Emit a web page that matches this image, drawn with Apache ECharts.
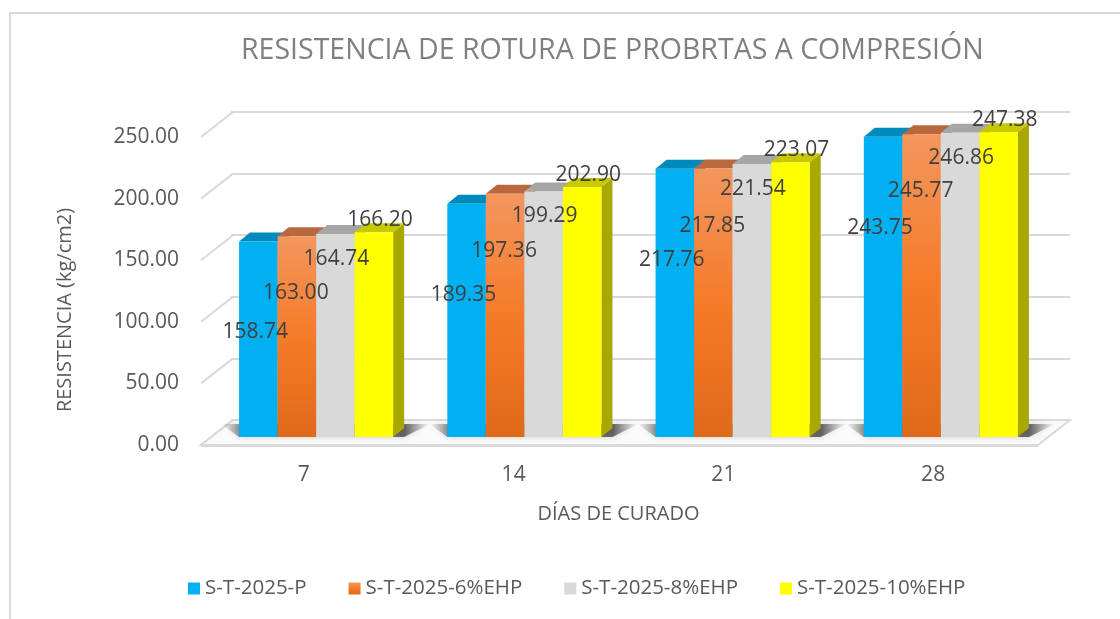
<!DOCTYPE html>
<html lang="es" style="height: 100%">

<head>
    <meta charset="UTF-8">
    <title>Resistencia de rotura</title>
    <script type="text/javascript" src="https://cdn.jsdelivr.net/npm/echarts@6/dist/echarts.min.js"></script>
</head>

<body style="height: 100%; margin: 0; background: #fff">
    <div id="container" style="width: 1120px; height: 619px"></div>
    <script type="text/javascript">
    var myChart = echarts.init(document.getElementById('container'));

    var days = ['7', '14', '21', '28'];
    var seriesNames = ['S-T-2025-P', 'S-T-2025-6%EHP', 'S-T-2025-8%EHP', 'S-T-2025-10%EHP'];
    var valP = [158.74, 189.35, 217.76, 243.75];
    var val6 = [163.00, 197.36, 217.85, 245.77];
    var val8 = [164.74, 199.29, 221.54, 246.86];
    var val10 = [166.20, 202.90, 223.07, 247.38];
    var yTicks = [0, 50, 100, 150, 200, 250];

    var allValues = [valP, val6, val8, val10];
    var FONT = "'Open Sans', sans-serif";

    // colours: front, top, side
    var faces = [
        { front: '#00B0F0', top: '#0089BC', side: '#007FAF' },
        {
            front: {
                type: 'linear', x: 0, y: 0, x2: 0, y2: 1,
                colorStops: [{ offset: 0, color: '#F4965E' }, { offset: 0.5, color: '#F47B28' }, { offset: 1, color: '#E0691A' }]
            },
            top: '#B9683E', side: '#A8561C'
        },
        { front: '#D9D9D9', top: '#A6A6A6', side: '#9A9A9A' },
        { front: '#FFFF00', top: '#C8C800', side: '#A8A800' }
    ];
    // label offsets from the bar top (excel 3d placement)
    var labelOff = [[-3, 91], [-1, 57], [1, 25], [6, -12]];

    var DX = 11, DY = -9;       // bar depth
    var WX = 32, WY = -25;      // wall depth

    function barGeom(api, c, v, s) {
        var base = api.coord([c, 0]);
        var top = api.coord([c, v]);
        var band = api.size([1, 0])[0];
        var bw = band * 0.74 / 4;
        var x0 = base[0] - 2 * bw + s * bw;
        return { x0: x0, x1: x0 + bw, yb: base[1], yt: top[1], bw: bw, cx: base[0] };
    }

    function barRender(s) {
        return function (params, api) {
            var g = barGeom(api, api.value(0), api.value(1), s);
            var f = faces[s];
            return {
                type: 'group',
                children: [{
                    type: 'polygon',
                    shape: { points: [[g.x1, g.yt], [g.x1 + DX, g.yt + DY], [g.x1 + DX, g.yb + DY], [g.x1, g.yb]] },
                    style: { fill: f.side }
                }, {
                    type: 'polygon',
                    shape: { points: [[g.x0, g.yt], [g.x1, g.yt], [g.x1 + DX, g.yt + DY], [g.x0 + DX, g.yt + DY]] },
                    style: { fill: f.top }
                }, {
                    type: 'rect',
                    shape: { x: g.x0, y: g.yt, width: g.bw, height: g.yb - g.yt },
                    style: { fill: f.front }
                }]
            };
        };
    }

    var series = [];

    // left wall connectors
    series.push({
        type: 'custom', xAxisIndex: 0, yAxisIndex: 0, z: 1, silent: true,
        data: yTicks.map(function (v) { return [0, v]; }),
        renderItem: function (params, api) {
            var cs = params.coordSys;
            var y = api.coord([0, api.value(1)])[1];
            return {
                type: 'line',
                shape: { x1: cs.x + 2, y1: y, x2: cs.x + 2 + WX, y2: y + WY },
                style: { stroke: '#D9D9D9', lineWidth: 2 }
            };
        }
    });

    // floor
    series.push({
        type: 'custom', xAxisIndex: 0, yAxisIndex: 0, z: 1, silent: true,
        data: [[0, 0]],
        renderItem: function (params, api) {
            var cs = params.coordSys;
            var yf = cs.y + cs.height;
            var xl = cs.x + 2, xr = cs.x + cs.width;
            return {
                type: 'group',
                children: [{
                    type: 'polygon',
                    shape: { points: [[xl, yf], [xr, yf], [xr + WX, yf + WY], [xl + WX, yf + WY]] },
                    style: { fill: '#FAFAFA', stroke: '#D9D9D9', lineWidth: 2 }
                }, {
                    type: 'rect',
                    shape: { x: xl, y: yf - 1, width: xr - xl, height: 3 },
                    style: { fill: '#D9D9D9' }
                }]
            };
        }
    });

    // soft shadows under each group
    series.push({
        type: 'custom', xAxisIndex: 2, yAxisIndex: 2, z: 1, silent: true,
        data: days.map(function (d, i) { return [i, 0]; }),
        renderItem: function (params, api) {
            var g0 = barGeom(api, api.value(0), 0, 0);
            var g3 = barGeom(api, api.value(0), 0, 3);
            var yb = g0.yb;
            return {
                type: 'polygon',
                shape: { points: [[g0.x0, yb], [g3.x1 + DX, yb], [g3.x1 + DX + 26, yb - 13], [g0.x0 - 18, yb - 13]] },
                style: {
                    fill: {
                        type: 'linear', x: 0, y: 0, x2: 1, y2: 0,
                        colorStops: [
                            { offset: 0, color: 'rgba(90,90,90,0)' },
                            { offset: 0.12, color: 'rgba(50,50,50,0.7)' },
                            { offset: 0.88, color: 'rgba(50,50,50,0.7)' },
                            { offset: 1, color: 'rgba(90,90,90,0)' }
                        ]
                    },
                    shadowBlur: 6, shadowColor: 'rgba(0,0,0,0.25)'
                }
            };
        }
    });

    for (var s = 0; s < 4; s++) {
        series.push({
            name: seriesNames[s],
            type: 'custom',
            xAxisIndex: 2, yAxisIndex: 2,
            z: 2 + s,
            itemStyle: { color: faces[s].front },
            data: allValues[s].map(function (v, i) { return [i, v]; }),
            renderItem: barRender(s)
        });
    }

    // value labels on top of everything
    var labelData = [];
    allValues.forEach(function (arr, s) {
        arr.forEach(function (v, i) { labelData.push([i, v, s]); });
    });
    series.push({
        type: 'custom', xAxisIndex: 2, yAxisIndex: 2, z: 10, silent: true,
        data: labelData,
        renderItem: function (params, api) {
            var s = api.value(2);
            var v = api.value(1);
            var g = barGeom(api, api.value(0), v, s);
            return {
                type: 'text',
                x: g.x0 + g.bw / 2 + labelOff[s][0],
                y: g.yt + labelOff[s][1],
                style: {
                    text: v.toFixed(2), fontSize: 21, fontFamily: FONT, fill: '#404040',
                    align: 'center', verticalAlign: 'middle'
                }
            };
        }
    });

    var hiddenX = function (idx) {
        return { type: 'category', gridIndex: idx, data: days, show: false };
    };
    var valueY = function (idx) {
        return { type: 'value', gridIndex: idx, min: 0, max: 250, interval: 50 };
    };

    var option = {
        backgroundColor: '#fff',
        animation: false,
        graphic: [{
            type: 'rect', silent: true, z: 0,
            shape: { x: 10, y: 13, width: 1140, height: 640 },
            style: { fill: 'none', stroke: '#D9D9D9', lineWidth: 2 }
        }],
        title: {
            text: 'RESISTENCIA DE ROTURA DE PROBRTAS A COMPRESIÓN',
            left: 236, top: 31,
            textStyle: { fontFamily: FONT, fontSize: 28.5, fontWeight: 'normal', color: '#808080' }
        },
        legend: {
            data: seriesNames,
            left: 183, top: 573,
            icon: 'rect', itemWidth: 12, itemHeight: 12, itemGap: 42,
            textStyle: { fontFamily: FONT, fontSize: 20.5, color: '#595959' }
        },
        grid: [
            { left: 199, right: 82, top: 137, bottom: 174 },   // labels / front floor edge
            { left: 231, right: 50, top: 112, bottom: 199 },   // back wall
            { left: 212, right: 75, top: 129, bottom: 182 }    // bars front plane
        ],
        xAxis: [{
            type: 'category', gridIndex: 0, data: days,
            axisLine: { show: false }, axisTick: { show: false },
            axisLabel: { margin: 20, fontFamily: FONT, fontSize: 21, color: '#595959' },
            name: 'DÍAS DE CURADO', nameLocation: 'middle', nameGap: 59,
            nameTextStyle: { fontFamily: FONT, fontSize: 20, color: '#595959' }
        }, hiddenX(1), hiddenX(2)],
        yAxis: [Object.assign(valueY(0), {
            axisLine: { show: false }, axisTick: { show: false }, splitLine: { show: false },
            axisLabel: {
                margin: 20, fontFamily: FONT, fontSize: 21, color: '#595959',
                formatter: function (v) { return v.toFixed(2); }
            },
            name: 'RESISTENCIA (kg/cm2)', nameLocation: 'middle', nameGap: 124,
            nameTextStyle: { fontFamily: FONT, fontSize: 20, color: '#595959', padding: [0, 38, 0, 0] }
        }), Object.assign(valueY(1), {
            axisLine: { show: false }, axisTick: { show: false }, axisLabel: { show: false },
            splitLine: { show: true, lineStyle: { color: '#D9D9D9', width: 2 } }
        }), Object.assign(valueY(2), { show: false })],
        series: series
    };

    myChart.setOption(option);
    </script>
</body>

</html>
